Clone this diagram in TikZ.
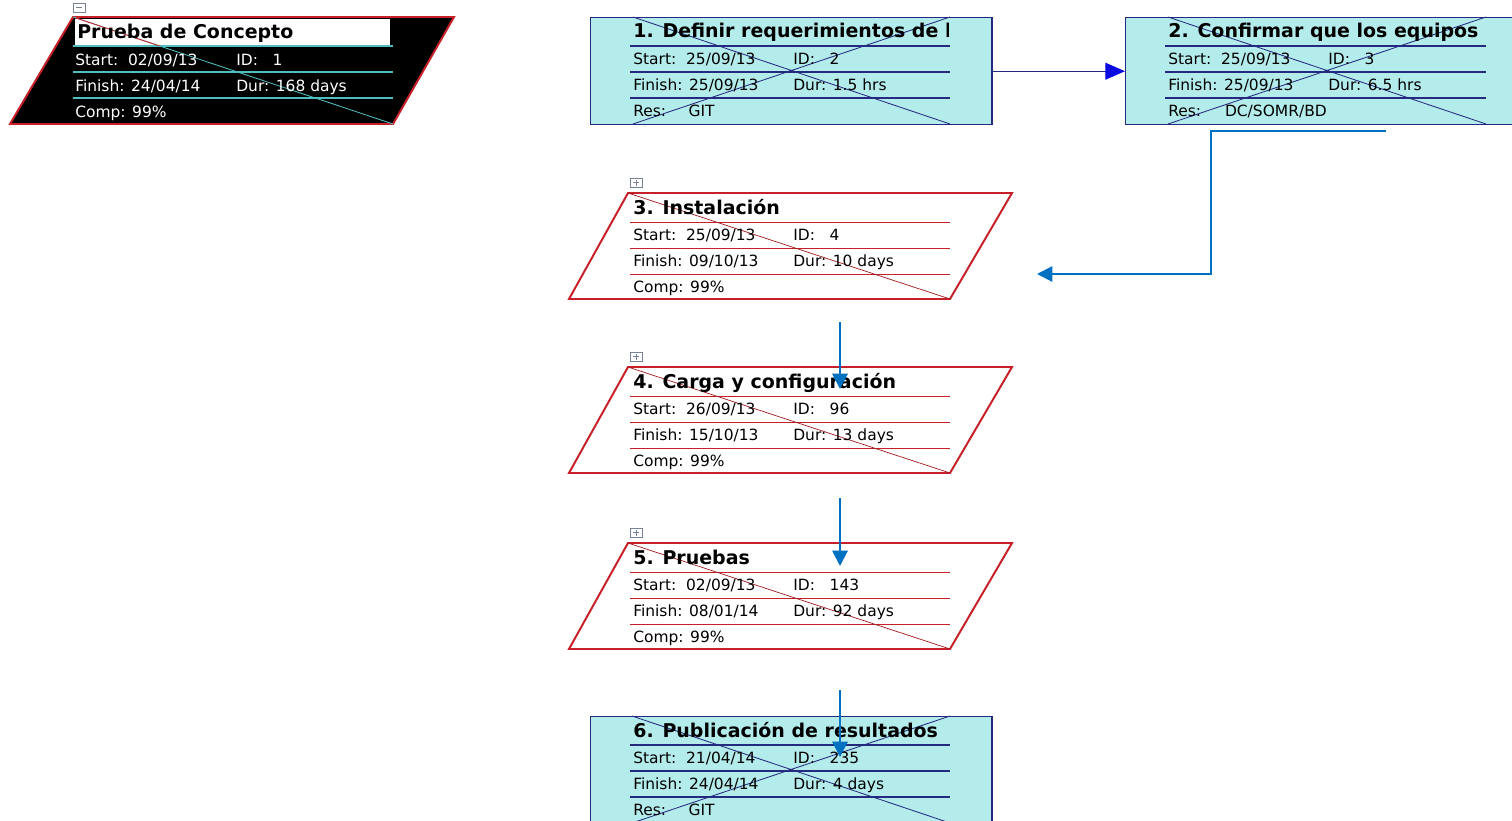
\documentclass[tikz,border=0pt]{standalone}
\usepackage{fontspec}
\setmainfont{DejaVu Sans}
\usetikzlibrary{arrows.meta}
\definecolor{boxfill}{RGB}{180,236,236}
\definecolor{boxline}{RGB}{36,42,128}
\definecolor{critred}{RGB}{200,32,40}
\definecolor{linkblue}{RGB}{0,112,192}
\definecolor{depblue}{RGB}{10,10,225}
\definecolor{sumteal}{RGB}{80,190,190}
\definecolor{togglegray}{RGB}{120,130,150}
\begin{document}
\begin{tikzpicture}[x=0.025cm, y=-0.025cm,
  title_style/.style={anchor=base west, inner sep=0pt, font=\fontsize{13.5}{16}\selectfont\bfseries},
  row_style/.style={anchor=base west, inner sep=0pt, font=\fontsize{11}{13}\selectfont},
  task_style/.style={draw=boxline, fill=boxfill, line width=1pt, inner sep=0pt, anchor=north west, minimum height=2.675cm},
  grid_style/.style={draw=boxline, line width=0.8pt},
  cross_style/.style={draw=boxline, line width=0.6pt},
  crit_style/.style={draw=critred, line width=1.4pt, fill=white},
  crit_grid_style/.style={draw=critred, line width=0.7pt},
  crit_diag_style/.style={draw=critred!80!black, line width=0.5pt},
  toggle_style/.style={draw=togglegray, line width=0.5pt},
  dep_style/.style={draw=boxline, line width=0.8pt, -{Triangle[length=14pt, width=12pt, color=depblue]}},
  link_style/.style={draw=linkblue, line width=1.4pt, -{Triangle[length=11pt, width=11pt]}}]
  \clip (0,0) rectangle (1512,821);
  % summary task
  \draw[crit_style, fill=black] (73,17) -- (454,17) -- (393,124) -- (10,124) -- cycle;
  \fill[white] (75,19) rectangle (390,46);
  \draw[draw=sumteal, line width=0.8pt] (73,46) -- (393,46) (73,72) -- (393,72) (73,98) -- (393,98);
  \draw[draw=sumteal, line width=0.6pt] (73,17) -- (393,124);
  \begin{scope}
    \clip (75,19) rectangle (390,46);
    \draw[draw=critred, line width=0.6pt] (73,17) -- (393,124);
  \end{scope}
  \draw[toggle_style, fill=white] (73,3) rectangle (85,12);
  \draw[toggle_style] (76,7.5) -- (82,7.5);
  \node[title_style] (s0) at (77,39) {Prueba de Concepto};
  \node[row_style, text=white] (s1) at (75,65.5) {Start:~~02/09/13};
  \node[row_style, text=white] (s2) at (236,65.5) {ID:~~~1};
  \node[row_style, text=white] (s3) at (75,91.5) {Finish: 24/04/14};
  \node[row_style, text=white] (s4) at (236,91.5) {Dur: 168 days};
  \node[row_style, text=white] (s5) at (75,117.5) {Comp: 99\%};
  % task 1
  \node[task_style, minimum width=10.025cm] (t1) at (590,17) {};
  \begin{scope}[shift={(0,17)}]
    \draw[grid_style] (630,29) -- (950,29) (630,55) -- (950,55) (630,81) -- (950,81);
    \draw[cross_style] (633,0) -- (950,107) (950,0) -- (633,107);
    \begin{scope}
      \clip (590,0) rectangle (948,29);
      \node[title_style] (t1a) at (633,21) {1. Definir requerimientos de los};
    \end{scope}
    \node[row_style] (t1b) at (633,47.5) {Start:~~25/09/13};
    \node[row_style] (t1c) at (793,47.5) {ID:~~~2};
    \node[row_style] (t1d) at (633,73.5) {Finish: 25/09/13};
    \node[row_style] (t1e) at (793,73.5) {Dur: 1.5 hrs};
    \node[row_style] (t1f) at (633,99.5) {Res:\hskip16pt GIT};
  \end{scope}
  % task 2
  \node[task_style, minimum width=10.25cm] (t2) at (1125,17) {};
  \begin{scope}[shift={(0,17)}]
    \draw[grid_style] (1165,29) -- (1486,29) (1165,55) -- (1486,55) (1165,81) -- (1486,81);
    \draw[cross_style] (1168,0) -- (1486,107) (1486,0) -- (1168,107);
    \node[title_style] (t2a) at (1168,21) {2. Confirmar que los equipos};
    \node[row_style] (t2b) at (1168,47.5) {Start:~~25/09/13};
    \node[row_style] (t2c) at (1328,47.5) {ID:~~~3};
    \node[row_style] (t2d) at (1168,73.5) {Finish: 25/09/13};
    \node[row_style] (t2e) at (1328,73.5) {Dur: 6.5 hrs};
    \node[row_style] (t2f) at (1168,99.5) {Res:\hskip17pt DC/SOMR/BD};
  \end{scope}
  % task 3
  \begin{scope}[shift={(0,193)}]
    \draw[crit_style] (628,0) -- (1012,0) -- (950,106) -- (569,106) -- cycle;
    \draw[crit_grid_style] (630,29) -- (950,29) (630,55) -- (950,55) (630,81) -- (950,81);
    \draw[crit_diag_style] (628,0) -- (950,106);
    \draw[toggle_style, fill=white] (630,-15) rectangle (642,-6);
    \draw[toggle_style] (633,-10.5) -- (639,-10.5) (636,-13.5) -- (636,-7.5);
    \node[title_style] (t3a) at (633,21) {3. Instalación};
    \node[row_style] (t3b) at (633,47.5) {Start:~~25/09/13};
    \node[row_style] (t3c) at (793,47.5) {ID:~~~4};
    \node[row_style] (t3d) at (633,73.5) {Finish: 09/10/13};
    \node[row_style] (t3e) at (793,73.5) {Dur: 10 days};
    \node[row_style] (t3f) at (633,99.5) {Comp: 99\%};
  \end{scope}
  % task 4
  \begin{scope}[shift={(0,367)}]
    \draw[crit_style] (628,0) -- (1012,0) -- (950,106) -- (569,106) -- cycle;
    \draw[crit_grid_style] (630,29) -- (950,29) (630,55) -- (950,55) (630,81) -- (950,81);
    \draw[crit_diag_style] (628,0) -- (950,106);
    \draw[toggle_style, fill=white] (630,-15) rectangle (642,-6);
    \draw[toggle_style] (633,-10.5) -- (639,-10.5) (636,-13.5) -- (636,-7.5);
    \node[title_style] (t4a) at (633,21) {4. Carga y configuración};
    \node[row_style] (t4b) at (633,47.5) {Start:~~26/09/13};
    \node[row_style] (t4c) at (793,47.5) {ID:~~~96};
    \node[row_style] (t4d) at (633,73.5) {Finish: 15/10/13};
    \node[row_style] (t4e) at (793,73.5) {Dur: 13 days};
    \node[row_style] (t4f) at (633,99.5) {Comp: 99\%};
  \end{scope}
  % task 5
  \begin{scope}[shift={(0,543)}]
    \draw[crit_style] (628,0) -- (1012,0) -- (950,106) -- (569,106) -- cycle;
    \draw[crit_grid_style] (630,29) -- (950,29) (630,55) -- (950,55) (630,81) -- (950,81);
    \draw[crit_diag_style] (628,0) -- (950,106);
    \draw[toggle_style, fill=white] (630,-15) rectangle (642,-6);
    \draw[toggle_style] (633,-10.5) -- (639,-10.5) (636,-13.5) -- (636,-7.5);
    \node[title_style] (t5a) at (633,21) {5. Pruebas};
    \node[row_style] (t5b) at (633,47.5) {Start:~~02/09/13};
    \node[row_style] (t5c) at (793,47.5) {ID:~~~143};
    \node[row_style] (t5d) at (633,73.5) {Finish: 08/01/14};
    \node[row_style] (t5e) at (793,73.5) {Dur: 92 days};
    \node[row_style] (t5f) at (633,99.5) {Comp: 99\%};
  \end{scope}
  % task 6
  \node[task_style, minimum width=10.025cm, minimum height=3cm] (t6) at (590,716) {};
  \begin{scope}[shift={(0,716)}]
    \draw[grid_style] (630,29) -- (950,29) (630,55) -- (950,55) (630,81) -- (950,81);
    \draw[cross_style] (632,0) -- (950,107) (950,0) -- (632,107);
    \node[title_style] (t6a) at (633,21) {6. Publicación de resultados};
    \node[row_style] (t6b) at (633,47.5) {Start:~~21/04/14};
    \node[row_style] (t6c) at (793,47.5) {ID:~~~235};
    \node[row_style] (t6d) at (633,73.5) {Finish: 24/04/14};
    \node[row_style] (t6e) at (793,73.5) {Dur: 4 days};
    \node[row_style] (t6f) at (633,99.5) {Res:\hskip16pt GIT};
  \end{scope}
  % links
  \coordinate (l2) at (1386,131);
  \coordinate (l3) at (1037,274);
  \coordinate (l3s) at (840,322);
  \coordinate (l4e) at (840,389);
  \coordinate (l4s) at (840,498);
  \coordinate (l5e) at (840,566);
  \coordinate (l5s) at (840,690);
  \coordinate (l6e) at (840,757);
  \draw[dep_style] (t1.east) -- (t2.west);
  \draw[link_style] (l2) -- ++(-175,0) |- (l3);
  \draw[link_style] (l3s) -- (l4e);
  \draw[link_style] (l4s) -- (l5e);
  \draw[link_style] (l5s) -- (l6e);
\end{tikzpicture}
\end{document}
